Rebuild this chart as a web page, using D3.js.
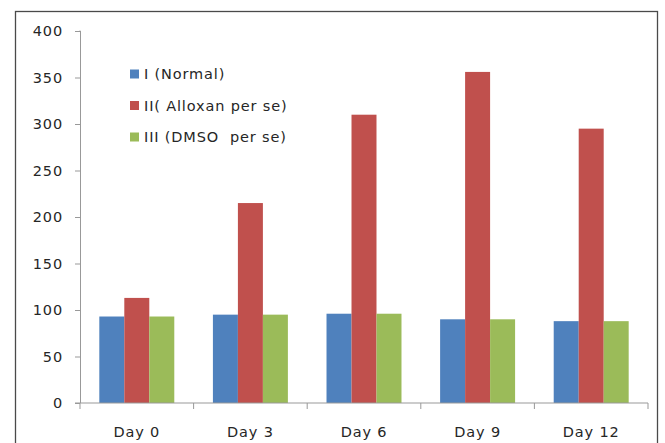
<!DOCTYPE html>
<html>
<head>
<meta charset="utf-8">
<script src="https://cdn.jsdelivr.net/npm/d3@7"></script>
<style>
  html, body { margin: 0; padding: 0; background: #fff; }
  svg { display: block; }
  text { font-family: "DejaVu Sans", sans-serif; fill: #262626; letter-spacing: 0.85px; }
</style>
</head>
<body>
<svg id="chart" width="665" height="443"></svg>
<script>
// Blood glucose by group over the study days
const categories = ["Day 0", "Day 3", "Day 6", "Day 9", "Day 12"];
const seriesNames = ["I (Normal)", "II( Alloxan per se)", "III (DMSO  per se)"];
const normal  = [93, 95, 96, 90, 88];
const alloxan = [113, 215, 310, 356, 295];
const dmso    = [93, 95, 96, 90, 88];
const yTicks  = [0, 50, 100, 150, 200, 250, 300, 350, 400];
const colors  = ["#4F81BD", "#C0504D", "#9BBB59"];

const seriesValues = [normal, alloxan, dmso];

const svg = d3.select("#chart");

// outer frame
svg.append("rect")
  .attr("x", 15.5).attr("y", 11.5)
  .attr("width", 642).attr("height", 440)
  .attr("fill", "#fff")
  .attr("stroke", "#4a4a4a")
  .attr("stroke-width", 1.3);

const plot = { left: 80, right: 648, top: 31, bottom: 403 };

const x0 = d3.scaleBand().domain(categories).range([plot.left, plot.right]);
const bw = x0.bandwidth();
const x1 = d3.scaleBand().domain(seriesNames).range([bw * 0.17, bw * 0.83]);
const y = d3.scaleLinear().domain([0, 400]).range([plot.bottom, plot.top]);

// bars
const groups = svg.append("g").selectAll("g")
  .data(categories)
  .join("g")
  .attr("transform", d => `translate(${x0(d)},0)`);

groups.selectAll("rect")
  .data((d, i) => seriesNames.map((s, k) => ({ s, k, v: seriesValues[k][i] })))
  .join("rect")
  .attr("x", d => x1(d.s))
  .attr("width", x1.bandwidth())
  .attr("y", d => y(d.v))
  .attr("height", d => y(0) - y(d.v))
  .attr("fill", d => colors[d.k]);

// y axis
const yAxis = svg.append("g")
  .attr("transform", `translate(${plot.left},0)`)
  .call(d3.axisLeft(y).tickValues(yTicks).tickSize(5).tickPadding(12).tickFormat(d3.format("d")));
yAxis.select(".domain").attr("stroke", "#999").attr("d", `M-0.5,${plot.top}H0.5V${plot.bottom}`);
yAxis.selectAll(".tick line").attr("stroke", "#999");
yAxis.selectAll(".tick text").attr("font-size", 14.5).attr("fill", "#262626")
  .attr("font-family", "DejaVu Sans, sans-serif");

// x axis with tick marks at category boundaries
const xAxisG = svg.append("g").attr("transform", `translate(0,${plot.bottom})`);
xAxisG.append("line")
  .attr("x1", plot.left - 5).attr("x2", plot.right)
  .attr("stroke", "#999");
const bounds = categories.map(c => x0(c)).concat([plot.right]);
xAxisG.selectAll("line.tk")
  .data(bounds)
  .join("line")
  .attr("class", "tk")
  .attr("x1", d => d).attr("x2", d => d)
  .attr("y1", 0).attr("y2", 6)
  .attr("stroke", "#999");
xAxisG.selectAll("text")
  .data(categories)
  .join("text")
  .attr("x", d => x0(d) + bw / 2)
  .attr("y", 34)
  .attr("text-anchor", "middle")
  .attr("font-size", 14.5)
  .text(d => d);

// legend
const legend = svg.append("g").attr("transform", "translate(130,74)");
const items = legend.selectAll("g")
  .data(seriesNames)
  .join("g")
  .attr("transform", (d, i) => `translate(0,${i * 31.5})`);
items.append("rect")
  .attr("x", 0).attr("y", -4.5)
  .attr("width", 9).attr("height", 9)
  .attr("fill", (d, i) => colors[i]);
items.append("text")
  .attr("x", 14).attr("y", 0)
  .attr("dy", "0.35em")
  .attr("font-size", 14.5)
  .attr("xml:space", "preserve")
  .style("white-space", "pre")
  .text(d => d);
</script>
</body>
</html>
